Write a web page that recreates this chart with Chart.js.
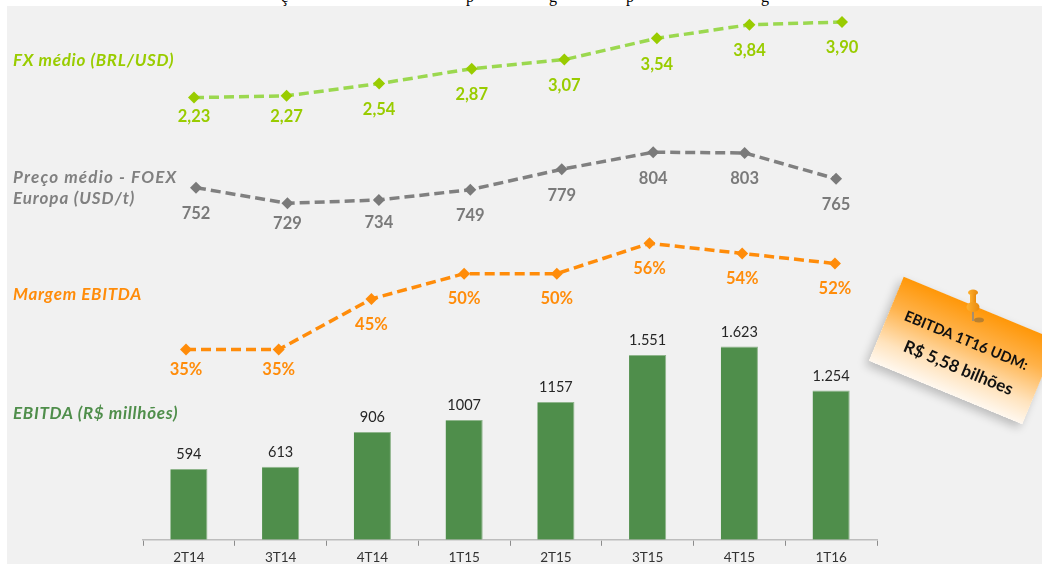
<!DOCTYPE html>
<html lang="pt">
<head>
<meta charset="utf-8">
<title>EBITDA 1T16</title>
<script src="https://cdn.jsdelivr.net/npm/chart.js@4"></script>
<style>
  html,body{margin:0;padding:0;background:#fff;width:1042px;height:564px;overflow:hidden}
  #panel{position:absolute;left:7px;top:6px;width:1035px;height:558px;background:#f1f1f1;overflow:hidden}
  canvas{display:block}
  .clip{position:absolute;font:16px "Liberation Serif",serif;line-height:16px;color:#000}
  .side{position:absolute;left:13px;font:italic 700 17px "Lato",sans-serif;white-space:nowrap;line-height:20px;letter-spacing:.7px}
  #note{position:absolute;left:880px;top:305px;width:166px;height:91px;transform:rotate(22.5deg);
        background:linear-gradient(to bottom,#ff9708 0%,#ffb24a 35%,#ffe3bd 75%,#fff8ef 100%);
        box-shadow:-2px 5px 10px rgba(0,0,0,.22)}
  #note div{position:absolute;font-family:"Lato",sans-serif;font-weight:700;color:#111;white-space:nowrap;line-height:18px}
  #pin{position:absolute;left:962px;top:289px}
</style>
</head>
<body>
<span class="clip" style="left:281px;top:-11px">ç</span>
<span class="clip" style="left:466px;top:-11px">p</span>
<span class="clip" style="left:549px;top:-11px">g</span>
<span class="clip" style="left:626px;top:-11px">p</span>
<span class="clip" style="left:761px;top:-11px">g</span>
<div id="panel"><canvas id="c" width="1035" height="564"></canvas></div>
<div class="side" style="top:50px;color:#99cc00">FX médio (BRL/USD)</div>
<div class="side" style="top:167px;color:#808080;letter-spacing:1.2px">Preço médio - FOEX</div>
<div class="side" style="top:188px;color:#808080;letter-spacing:.9px">Europa (USD/t)</div>
<div class="side" style="top:284px;color:#ff8c0a">Margem EBITDA</div>
<div class="side" style="top:403px;color:#4f8e4b">EBITDA (R$ millhões)</div>
<div id="note">
  <div style="left:16px;top:26px;font-size:14.6px">EBITDA 1T16 UDM:</div>
  <div style="left:27px;top:53.5px;font-size:17px">R$ 5,58 bilhões</div>
</div>
<svg id="pin" width="24" height="34" viewBox="0 0 24 34">
  <defs><linearGradient id="p" x1="0" x2="1"><stop offset="0" stop-color="#ffb02e"/><stop offset="1" stop-color="#e8890c"/></linearGradient></defs>
  <ellipse cx="17" cy="31" rx="5" ry="2.5" fill="#8a6a3a" opacity=".6"/>
  <path d="M11 22 L11 32" stroke="#8a8a8a" stroke-width="1.5"/>
  <ellipse cx="11" cy="3.5" rx="5" ry="3" fill="url(#p)"/>
  <rect x="8" y="5" width="6" height="9" fill="url(#p)"/>
  <ellipse cx="11" cy="18" rx="6.5" ry="5" fill="url(#p)"/>
</svg>
<script>
const categories = ['2T14','3T14','4T14','1T15','2T15','3T15','4T15','1T16'];
const ebitda = [594,613,906,1007,1157,1551,1623,1254];
const ebitdaLabels = ['594','613','906','1007','1157','1.551','1.623','1.254'];
const margem = [35,35,45,50,50,56,54,52];
const margemLabels = ['35%','35%','45%','50%','50%','56%','54%','52%'];
const foex = [752,729,734,749,779,804,803,765];
const foexLabels = ['752','729','734','749','779','804','803','765'];
const fx = [2.23,2.27,2.54,2.87,3.07,3.54,3.84,3.90];
const fxLabels = ['2,23','2,27','2,54','2,87','3,07','3,54','3,84','3,90'];

const xy = a => a.map((v,i)=>({x:i,y:v}));
const FONT = '"Lato",sans-serif';

const labelPlugin = {
  id:'valueLabels',
  afterDatasetsDraw(chart){
    const ctx = chart.ctx;
    chart.data.datasets.forEach((ds,di)=>{
      const meta = chart.getDatasetMeta(di);
      ctx.save();
      ctx.font = ds.labelFont;
      ctx.fillStyle = ds.labelColor;
      ctx.textAlign='center';
      ctx.textBaseline='middle';
      meta.data.forEach((el,i)=>{
        const d = ds.labelDy;
        ctx.fillText(ds.valueLabels[i], el.x, el.y + (Array.isArray(d)?d[i]:d));
      });
      ctx.restore();
    });
  }
};

const lineDs = (label,values,labels,xId,yId,lineCol,markCol,dy)=>({
  type:'line',label,data:xy(values),valueLabels:labels,xAxisID:xId,yAxisID:yId,
  borderColor:lineCol,borderWidth:3.5,borderDash:[10,5],borderCapStyle:'butt',
  pointStyle:'rectRot',pointRadius:6,pointBackgroundColor:markCol,pointBorderColor:markCol,pointBorderWidth:0,
  tension:0,fill:false,order:1,
  labelFont:'700 16.5px '+FONT,labelColor:markCol,labelDy:dy
});
const hiddenX = (min,max)=>({type:'linear',display:false,min,max,offset:false});
const hiddenY = (min,max)=>({type:'linear',display:false,min,max});

new Chart(document.getElementById('c'),{
  type:'bar',
  plugins:[labelPlugin],
  data:{
    labels:categories,
    datasets:[
      {type:'bar',label:'EBITDA (R$ millhões)',data:ebitda,valueLabels:ebitdaLabels,xAxisID:'x',yAxisID:'yBar',
       backgroundColor:'#4f8e4b',borderColor:'#8fb58c',borderWidth:{left:0,top:1,right:1,bottom:0},
       grouped:false,barPercentage:.405,categoryPercentage:1,order:2,
       labelFont:'400 14.5px '+FONT,labelColor:'#262626',labelDy:-14.5},
      lineDs('Margem EBITDA',margem,margemLabels,'xM','yM','#ff8c0a','#ff8c0a',[20.5,20.5,25.5,25.5,25.5,25.5,25.5,25.5]),
      lineDs('Preço médio - FOEX Europa (USD/t)',foex,foexLabels,'xP','yP','#808080','#7a7a7a',[26,20,23,26,26,26,26,26]),
      lineDs('FX médio (BRL/USD)',fx,fxLabels,'xF','yF','#9bd84f','#99cc00',[19.5,21,26,26,26,26,26,26])
    ]
  },
  options:{
    responsive:false,animation:false,
    layout:{autoPadding:false,padding:{left:136,right:165,top:0,bottom:0}},
    plugins:{legend:{display:false},tooltip:{enabled:false},title:{display:false}},
    scales:{
      x:{type:'category',offset:true,
         grid:{display:true,drawOnChartArea:false,tickLength:6,tickColor:'#8c8c8c',offset:true},
         border:{color:'#bdbdbd',width:1.5},
         ticks:{color:'#333',font:{family:'Lato',size:13.5},padding:4,maxRotation:0,autoSkip:false}},
      xF:hiddenX(-0.551,7.378),
      xP:hiddenX(-0.5797,7.448),
      xM:hiddenX(-0.4639,7.454),
      yBar:{type:'linear',display:false,min:0,max:4483},
      yM:hiddenY(-2.6,102.9),
      yP:hiddenY(235,1018.7),
      yF:hiddenY(-7.538,4.254)
    }
  }
});
</script>
</body>
</html>
